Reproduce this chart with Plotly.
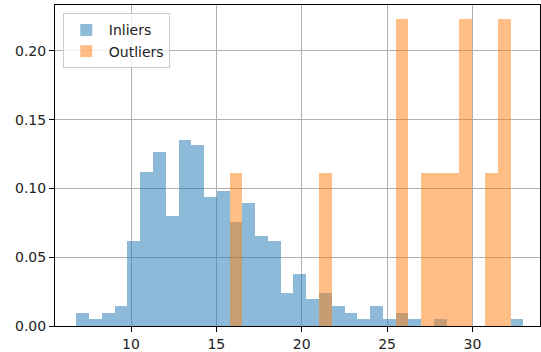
import numpy as np
import plotly.graph_objects as go

# Shared histogram bins (35 bins)
bin_start = 6.80
bin_end = 32.98
n_bins = 35

# Density heights per bin
inliers_density = [
    0.0097, 0.0050, 0.0097, 0.0145, 0.0615, 0.1118, 0.1268, 0.0797, 0.1353, 0.1314,
    0.0938, 0.0979, 0.0753, 0.0891, 0.0656, 0.0615, 0.0238, 0.0379, 0.0195, 0.0238,
    0.0146, 0.0097, 0.0050, 0.0146, 0.0050, 0.0097, 0.0050, 0.0000, 0.0050, 0.0000,
    0.0000, 0.0000, 0.0000, 0.0000, 0.0050,
]
outliers_density = [
    0, 0, 0, 0, 0, 0, 0, 0, 0, 0,
    0, 0, 0.1114, 0, 0, 0, 0, 0, 0, 0.1114,
    0, 0, 0, 0, 0, 0.2228, 0, 0.1114, 0.1114, 0.1114,
    0.2228, 0, 0.1114, 0.2228, 0,
]
series_names = ["Inliers", "Outliers"]
x_ticks = [10, 15, 20, 25, 30]
y_ticks = [0.00, 0.05, 0.10, 0.15, 0.20]

edges = np.linspace(bin_start, bin_end, n_bins + 1)
centers = (edges[:-1] + edges[1:]) / 2
width = edges[1] - edges[0]

fig = go.Figure()
for name, vals, col in [(series_names[0], inliers_density, "#1f77b4"),
                        (series_names[1], outliers_density, "#ff7f0e")]:
    fig.add_trace(go.Bar(
        x=centers, y=vals, width=width, name=name,
        marker=dict(color=col, line=dict(width=0)),
        opacity=0.5,
    ))

font = dict(family="DejaVu Sans", size=14, color="#222222")
axis_common = dict(
    showline=True, linecolor="black", linewidth=1, mirror=True,
    ticks="outside", ticklen=5, tickwidth=1, tickcolor="black",
    showgrid=True, gridcolor="#b0b0b0", gridwidth=1, zeroline=False,
    tickfont=font,
)
fig.update_layout(
    width=541, height=352,
    margin=dict(l=55, r=1, t=5, b=26),
    paper_bgcolor="white", plot_bgcolor="white",
    barmode="overlay", bargap=0,
    font=font,
    xaxis=dict(range=[5.548, 33.96], tickvals=x_ticks, **axis_common),
    yaxis=dict(range=[0, 0.2333], tickvals=y_ticks, tickformat=".2f", **axis_common),
    legend=dict(
        x=0.016, y=0.974, xanchor="left", yanchor="top",
        bgcolor="rgba(255,255,255,0.8)", bordercolor="#cccccc", borderwidth=1,
        font=font, itemwidth=35,
    ),
)
fig.write_html("out.html")
